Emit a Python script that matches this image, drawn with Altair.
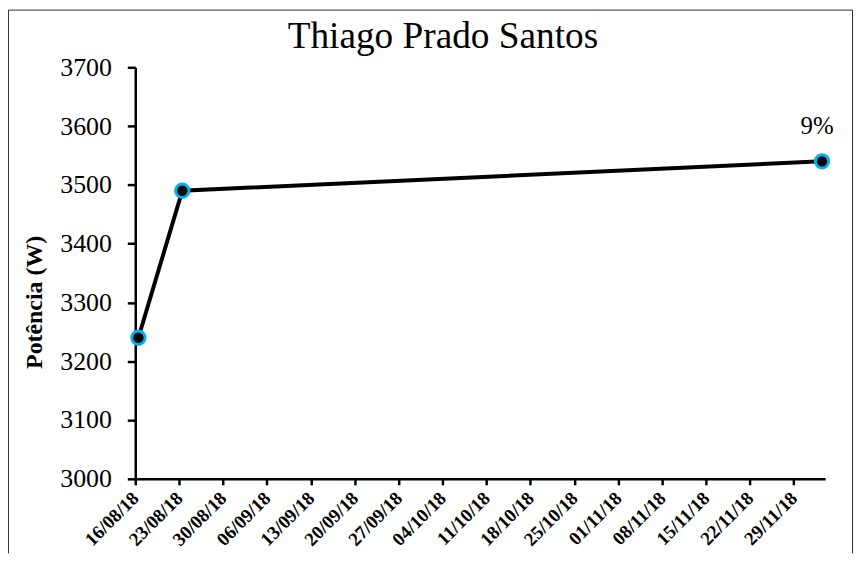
import altair as alt
import pandas as pd

# ---- data ----
dates = ["2018-08-16T12:00:00Z", "2018-08-23T12:00:00Z", "2018-12-03T12:00:00Z"]
power = [3240, 3490, 3540]
point_labels = ["", "", "9%"]

tick_dates = [
    "2018-08-16", "2018-08-23", "2018-08-30", "2018-09-06", "2018-09-13",
    "2018-09-20", "2018-09-27", "2018-10-04", "2018-10-11", "2018-10-18",
    "2018-10-25", "2018-11-01", "2018-11-08", "2018-11-15", "2018-11-22",
    "2018-11-29",
]
y_ticks = [3000, 3100, 3200, 3300, 3400, 3500, 3600, 3700]
x_domain = ["2018-08-16", "2018-12-04"]

title_text = "Thiago Prado Santos"
y_title = "Potência (W)"

df = pd.DataFrame({"date": dates, "power": power, "label": point_labels})


def dt(s):
    y, m, d = (int(p) for p in s.split("-"))
    return alt.DateTime(year=y, month=m, date=d, utc=True)


W, H = 694, 414
PL, PT, PR, PB = 128, 58, 28, 75
FONT = "Liberation Serif"

x_enc = alt.X(
    "date:T",
    scale=alt.Scale(type="utc", domain=[dt(s) for s in x_domain]),
    axis=alt.Axis(
        values=[dt(s) for s in tick_dates],
        labelExpr="utcFormat(datum.value, '%d/%m/%y')",
        labelAngle=-45,
        labelAlign="right",
        labelBaseline="middle",
        labelFont=FONT,
        labelFontSize=19,
        labelFontWeight="bold",
        labelColor="black",
        labelPadding=10,
        labelOverlap=False,
        labelFlush=False,
        tickSize=6,
        title=None,
    ),
)
y_enc = alt.Y(
    "power:Q",
    scale=alt.Scale(domain=[y_ticks[0], y_ticks[-1]], nice=False, zero=False),
    axis=alt.Axis(
        values=y_ticks,
        format="d",
        labelFont=FONT,
        labelFontSize=26,
        labelColor="black",
        labelPadding=16,
        tickSize=8,
        title=y_title,
        titleFont=FONT,
        titleFontSize=24,
        titleFontWeight="bold",
        titleColor="black",
        titleAngle=-90,
        titleAlign="center",
        titleBaseline="middle",
        titleX=-101,
        titleY=236,
    ),
)

base = alt.Chart(df)

line = base.mark_line(color="black", strokeWidth=4).encode(x=x_enc, y=y_enc)
points = base.mark_circle(
    color="black", stroke="#00B0F0", strokeWidth=3, size=180, opacity=1
).encode(x=x_enc, y=y_enc)
labels = base.mark_text(
    font=FONT, fontSize=25, color="black", baseline="alphabetic", dy=-28, dx=-5
).encode(x=x_enc, y=y_enc, text="label:N")

one = alt.Data(values=[{"k": 1}])
title = alt.Chart(one).mark_text(
    font=FONT, fontSize=37.5, color="black", baseline="alphabetic", align="center"
).encode(x=alt.value(309.5), y=alt.value(-19), text=alt.value(title_text))

bcol = "#303030"
border_left = alt.Chart(one).mark_rule(color=bcol, strokeWidth=1).encode(
    x=alt.value(-PL + 0.5), y=alt.value(-PT + 0.5), y2=alt.value(H + PB)
)
border_top = alt.Chart(one).mark_rule(color=bcol, strokeWidth=1).encode(
    x=alt.value(-PL + 0.5), x2=alt.value(W + PR - 0.5), y=alt.value(-PT + 0.5)
)
border_right = alt.Chart(one).mark_rule(color=bcol, strokeWidth=1).encode(
    x=alt.value(W + PR - 0.5), y=alt.value(-PT + 0.5), y2=alt.value(H + PB)
)

chart = (
    alt.layer(border_left, border_top, border_right, title, line, points, labels)
    .properties(
        width=W,
        height=H,
        padding={"left": PL, "top": PT, "right": PR, "bottom": PB},
        autosize=alt.AutoSizeParams(type="none"),
        background="white",
    )
    .configure_view(stroke=None)
    .configure_axis(
        grid=False,
        domainColor="black",
        domainWidth=2.5,
        tickColor="black",
        tickWidth=2.5,
    )
)

chart.save("out.html", embed_options={"renderer": "svg", "actions": False})
